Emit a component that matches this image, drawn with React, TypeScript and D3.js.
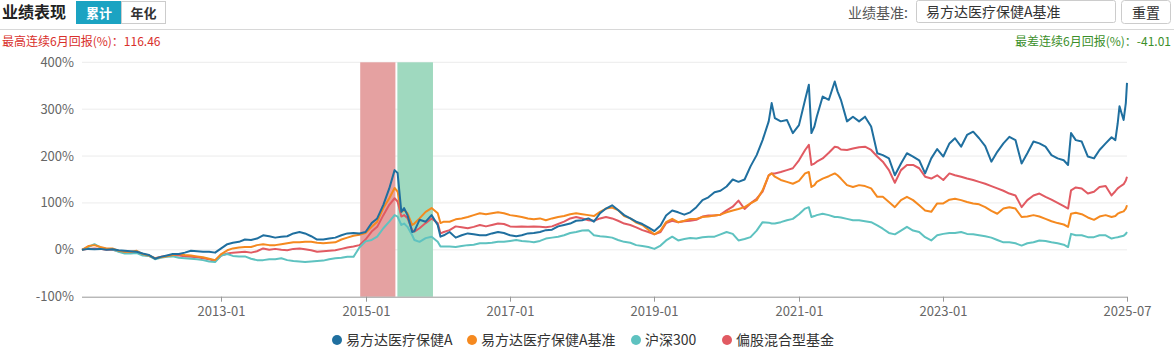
import React from 'react';
import * as d3 from 'd3';

// ---- data (cumulative return, %) ----
const dates = [
  '2011-01-28','2011-03-01','2011-04-01','2011-05-01','2011-06-01','2011-07-01','2011-08-01','2011-09-01','2011-10-01','2011-11-01','2011-12-01',
  '2012-01-01','2012-02-01','2012-03-01','2012-04-01','2012-05-01','2012-06-01','2012-07-01','2012-08-01','2012-09-01','2012-10-01','2012-11-01','2012-12-01',
  '2013-01-01','2013-02-01','2013-03-01','2013-04-01','2013-05-01','2013-06-01','2013-07-01','2013-08-01','2013-09-01','2013-10-01','2013-11-01','2013-12-01',
  '2014-01-01','2014-02-01','2014-03-01','2014-04-01','2014-05-01','2014-06-01','2014-07-01','2014-08-01','2014-09-01','2014-10-01','2014-11-01','2014-12-01',
  '2015-01-01','2015-02-01','2015-03-01','2015-04-01','2015-05-01','2015-05-28','2015-06-12','2015-07-01','2015-07-15','2015-08-01','2015-08-25','2015-09-05','2015-10-01','2015-11-01','2015-12-01',
  '2016-01-01','2016-01-15','2016-02-01','2016-03-01','2016-04-01','2016-05-01','2016-06-01','2016-07-01','2016-08-01','2016-09-01','2016-10-01','2016-11-01','2016-12-01',
  '2017-01-01','2017-02-01','2017-03-01','2017-04-01','2017-05-01','2017-06-01','2017-07-01','2017-08-01','2017-09-01','2017-10-01','2017-11-01','2017-12-01',
  '2018-01-01','2018-02-01','2018-03-01','2018-04-01','2018-05-01','2018-06-01','2018-07-01','2018-08-01','2018-09-01','2018-10-01','2018-11-01','2018-12-01',
  '2019-01-01','2019-02-01','2019-03-01','2019-04-01','2019-05-01','2019-06-01','2019-07-01','2019-08-01','2019-09-01','2019-10-01','2019-11-01','2019-12-01',
  '2020-01-01','2020-02-01','2020-03-01','2020-04-01','2020-05-01','2020-06-01','2020-07-01','2020-08-01','2020-08-16','2020-09-01','2020-10-01','2020-11-01','2020-12-01',
  '2021-01-01','2021-02-01','2021-02-20','2021-03-05','2021-03-20','2021-04-01','2021-05-01','2021-06-01','2021-07-01','2021-07-15','2021-08-01','2021-09-01','2021-10-01','2021-11-01','2021-12-01',
  '2022-01-01','2022-02-01','2022-03-01','2022-04-01','2022-05-01','2022-06-01','2022-07-01','2022-08-01','2022-09-01','2022-10-01','2022-11-01','2022-12-01',
  '2023-01-01','2023-02-01','2023-03-01','2023-04-01','2023-05-01','2023-06-01','2023-07-01','2023-08-01','2023-09-01','2023-10-01','2023-11-01','2023-12-01',
  '2024-01-01','2024-02-01','2024-03-01','2024-04-01','2024-05-01','2024-06-01','2024-07-01','2024-08-01','2024-09-01','2024-09-23','2024-10-08','2024-11-01','2024-12-01',
  '2025-01-01','2025-02-01','2025-03-01','2025-04-01','2025-05-01','2025-05-20','2025-06-01','2025-06-10','2025-07-01','2025-07-12','2025-07-18',
];

const fundValues = [
  0, 2, 1, 2, 0, 1, -1, -2, -3, -4, -8,
  -11, -19, -15, -12, -9, -9, -6, -2, -3, -4, -4, -6,
  3, 12, 15, 17, 22, 21, 24, 31, 29, 26, 28, 29,
  35, 38, 35, 29, 22, 22, 24, 26, 31, 35, 36, 35,
  38, 57, 67, 96, 131, 170, 164, 81, 89, 74, 38, 40, 64, 60, 74,
  53, 28, 31, 38, 26, 31, 35, 33, 31, 31, 35, 38, 36,
  31, 29, 31, 35, 36, 38, 42, 43, 50, 53, 56, 62,
  63, 67, 60, 78, 88, 95, 85, 74, 67, 60, 55, 48,
  40, 52, 73, 84, 80, 75, 80, 91, 106, 112, 123, 126,
  135, 150, 145, 150, 178, 202, 234, 274, 313, 281, 274, 277, 249,
  266, 320, 352, 249, 263, 284, 327, 320, 359, 338, 320, 274, 284, 274, 284,
  263, 206, 202, 195, 159, 184, 206, 199, 191, 163, 195, 215,
  199, 227, 238, 220, 245, 252, 238, 221, 188, 209, 227, 241,
  234, 184, 206, 231, 227, 220, 202, 195, 191, 181, 249, 234, 231,
  199, 195, 213, 227, 240, 234, 270, 306, 277, 313, 356,
];

const benchmarkValues = [
  0, 8, 10, 6, 3, 3, -2, -4, -4, -2, -9,
  -12, -18, -16, -14, -11, -9, -11, -12, -14, -16, -19, -22,
  -9, -1, 3, 5, 6, 6, 10, 12, 10, 10, 12, 14,
  16, 16, 17, 17, 15, 14, 15, 16, 22, 26, 30, 32,
  36, 49, 60, 89, 110, 132, 124, 81, 85, 78, 53, 56, 67, 81, 89,
  78, 57, 60, 60, 65, 67, 70, 74, 78, 76, 78, 80, 78,
  74, 72, 70, 67, 65, 67, 63, 67, 70, 72, 76, 78,
  76, 74, 72, 81, 88, 90, 85, 72, 67, 58, 53, 43,
  33, 41, 59, 66, 59, 62, 66, 66, 70, 71, 73, 75,
  80, 84, 87, 91, 99, 106, 127, 159, 163, 156, 149, 145, 141,
  147, 163, 166, 134, 138, 145, 152, 157, 163, 159, 152, 138, 134, 138, 136,
  131, 113, 113, 102, 91, 106, 113, 106, 95, 84, 81, 99,
  99, 107, 109, 106, 102, 99, 97, 91, 83, 77, 88, 91,
  88, 70, 71, 74, 71, 66, 61, 57, 54, 49, 77, 79, 76,
  69, 64, 71, 74, 70, 72, 77, 79, 82, 88, 95,
];

const hs300Values = [
  0, 6, 12, 5, 2, 1, -4, -8, -8, -7, -12,
  -13, -20, -17, -15, -14, -17, -18, -19, -20, -22, -25, -26,
  -12, -9, -13, -14, -14, -19, -22, -22, -20, -20, -18, -22,
  -24, -25, -26, -25, -24, -23, -20, -18, -17, -15, -15, 5,
  18, 21, 28, 46, 60, 74, 71, 53, 56, 49, 31, 21, 17, 25, 28,
  17, 7, 7, 7, 6, 8, 10, 11, 14, 14, 15, 17, 17,
  19, 21, 19, 18, 16, 19, 24, 26, 28, 31, 36, 38,
  41, 42, 31, 29, 28, 26, 21, 17, 15, 10, 8, 6,
  2, 9, 20, 28, 20, 23, 25, 24, 27, 28, 28, 33,
  38, 34, 20, 23, 27, 41, 59, 58, 56, 56, 59, 63, 66,
  76, 88, 91, 70, 72, 74, 77, 74, 70, 70, 69, 66, 63, 63, 61,
  59, 52, 45, 36, 33, 41, 49, 41, 38, 27, 20, 31,
  34, 36, 36, 38, 34, 33, 31, 29, 26, 21, 16, 16,
  14, 9, 14, 16, 20, 19, 16, 14, 11, 6, 34, 31, 31,
  27, 27, 31, 31, 24, 26, 27, 28, 30, 34, 38,
];

const mixedFundValues = [
  0, 2, 3, 2, 0, 0, -3, -5, -6, -6, -10,
  -13, -18, -15, -13, -12, -12, -14, -15, -16, -18, -20, -24,
  -12, -8, -6, -5, -4, -6, -3, 3, 0, 2, 0, -1,
  2, 3, 1, -1, -4, -3, -2, -1, 2, 5, 7, 10,
  22, 39, 49, 74, 96, 110, 103, 71, 74, 68, 42, 39, 46, 57, 67,
  57, 35, 38, 42, 50, 48, 46, 49, 53, 50, 53, 56, 55,
  50, 49, 50, 49, 50, 49, 48, 50, 55, 60, 67, 70,
  67, 63, 62, 67, 70, 67, 62, 56, 53, 48, 42, 38,
  33, 38, 57, 62, 59, 61, 62, 64, 71, 73, 73, 75,
  84, 92, 105, 87, 99, 109, 124, 159, 163, 163, 166, 170, 174,
  191, 213, 224, 181, 184, 188, 195, 207, 220, 219, 214, 213, 216, 219, 220,
  213, 199, 188, 170, 143, 170, 181, 181, 174, 156, 152, 159,
  149, 163, 159, 156, 152, 149, 145, 141, 136, 131, 126, 120,
  116, 91, 106, 116, 120, 113, 107, 100, 93, 88, 127, 133, 131,
  120, 124, 134, 136, 116, 125, 131, 134, 140, 148, 156,
];

const seriesNames = ['易方达医疗保健A', '易方达医疗保健A基准', '沪深300', '偏股混合型基金'];
const seriesColors = ['#1f6f9f', '#f5891f', '#5ec2c0', '#e15a62'];
const yTicks = [-100, 0, 100, 200, 300, 400];
const xTickDates = ['2013-01-01', '2015-01-01', '2017-01-01', '2019-01-01', '2021-01-01', '2023-01-01', '2025-07-18'];
const xTickLabels = ['2013-01', '2015-01', '2017-01', '2019-01', '2021-01', '2023-01', '2025-07'];
const bestPeriod = ['2014-12-05', '2015-06-01'];
const worstPeriod = ['2015-06-11', '2015-12-08'];
const domainDates = ['2011-01-28', '2025-07-18'];
const bestReturn = '116.46';
const worstReturn = '-41.01';
const benchmarkName = '易方达医疗保健A基准';

const FONT = '"Microsoft YaHei", "Noto Sans CJK SC", "Noto Sans", sans-serif';

export default function App() {
  const parse = d3.timeParse('%Y-%m-%d');
  const dts = dates.map((d) => parse(d) as Date);
  const x = d3
    .scaleTime()
    .domain(domainDates.map((d) => parse(d) as Date))
    .range([82, 1127]);
  const y = d3.scaleLinear().domain([-100, 400]).range([296.7, 62.3]);

  const series = [fundValues, benchmarkValues, hs300Values, mixedFundValues];
  const n = Math.min(dts.length, ...series.map((s) => s.length));
  const makePath = (vals: number[]) =>
    d3
      .line<number>()
      .x((_, i) => x(dts[i]))
      .y((v) => y(v))(vals.slice(0, n)) || '';

  const drawOrder = [3, 2, 1, 0];
  const legendX = [337, 472, 636, 727];

  const band = (p: string[], color: string) => {
    const x0 = x(parse(p[0]) as Date);
    const x1 = x(parse(p[1]) as Date);
    return <rect x={x0} y={y(400)} width={x1 - x0} height={y(-100) - y(400)} fill={color} />;
  };

  return (
    <div style={{ position: 'absolute', left: 0, top: 0 }}>
      <svg width={1174} height={355} style={{ display: 'block', fontFamily: FONT }}>
        <rect x={0} y={0} width={1174} height={355} fill="#fff" />
        {/* header */}
        <text x={2} y={18} fontSize={16} fontWeight="bold" fill="#222">业绩表现</text>
        <rect x={76.5} y={1.5} width={45} height={22} fill="#1ba3c2" stroke="#1ba3c2" />
        <text x={99} y={17.5} fontSize={13} fontWeight="bold" fill="#fff" textAnchor="middle">累计</text>
        <rect x={121.5} y={1.5} width={44} height={22} fill="#fff" stroke="#ccc" />
        <text x={143.5} y={17.5} fontSize={13} fontWeight="bold" fill="#333" textAnchor="middle">年化</text>

        <text x={908} y={18} fontSize={14} fill="#555" textAnchor="end">业绩基准:</text>
        <rect x={916.5} y={0.5} width={199} height={22} fill="#fff" stroke="#ccc" rx={2} />
        <text x={926} y={17} fontSize={14} fill="#333">{benchmarkName}</text>
        <rect x={1121.5} y={0.5} width={49} height={23} fill="#fff" stroke="#ccc" rx={3} />
        <text x={1146} y={17.5} fontSize={14} fill="#333" textAnchor="middle">重置</text>

        <line x1={0} x2={1174} y1={29.5} y2={29.5} stroke="#d8d8d8" />
        <text x={2} y={46} fontSize={12} fill="#d9302c">{`最高连续6月回报(%)：${bestReturn}`}</text>
        <text x={1171} y={46} fontSize={12} fill="#3b8f2a" textAnchor="end">{`最差连续6月回报(%)：${worstReturn}`}</text>

        {/* grid */}
        {yTicks.slice(1).map((t) => (
          <line key={t} x1={82} x2={1127} y1={y(t)} y2={y(t)} stroke="#ececec" />
        ))}
        {yTicks.map((t) => (
          <text key={'yl' + t} x={74} y={y(t) + 4.5} fontSize={13} fill="#666" textAnchor="end">
            {`${t}%`}
          </text>
        ))}

        {/* highlighted periods */}
        {band(bestPeriod, '#e5a1a1')}
        {band(worstPeriod, '#9fd9bf')}

        {/* axis */}
        <line x1={82} x2={1127} y1={y(-100) + 0.5} y2={y(-100) + 0.5} stroke="#999" />
        {xTickDates.map((d, i) => {
          const xx = Math.round(x(parse(d) as Date)) + 0.5;
          return (
            <g key={d}>
              <line x1={xx} x2={xx} y1={y(-100)} y2={y(-100) + 5} stroke="#999" />
              <text x={xx} y={316} fontSize={13} fill="#666" textAnchor="middle">
                {xTickLabels[i]}
              </text>
            </g>
          );
        })}

        {/* lines */}
        {drawOrder.map((si) => (
          <path
            key={si}
            d={makePath(series[si])}
            fill="none"
            stroke={seriesColors[si]}
            strokeWidth={2}
            strokeLinejoin="round"
          />
        ))}

        {/* legend */}
        {seriesNames.map((name, i) => (
          <g key={name}>
            <circle cx={legendX[i]} cy={340} r={5} fill={seriesColors[i]} />
            <text x={legendX[i] + 9} y={345} fontSize={14} fill="#333">
              {name}
            </text>
          </g>
        ))}
      </svg>
    </div>
  );
}
